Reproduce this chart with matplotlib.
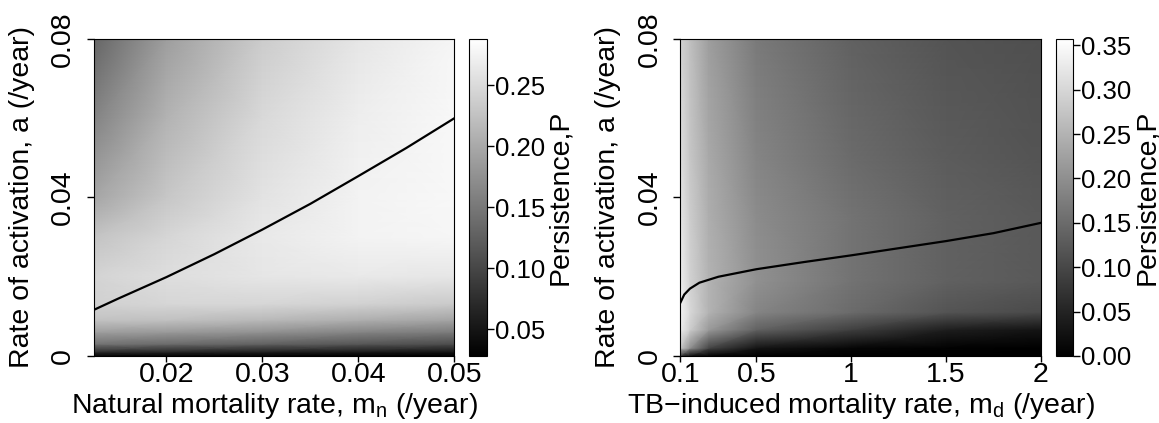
import numpy as np
import matplotlib
matplotlib.use('Agg')
import matplotlib.pyplot as plt

plt.rcParams['font.family'] = ['Liberation Sans', 'DejaVu Sans']
plt.rcParams['font.size'] = 20.5

# left panel: natural mortality rate (cols) vs activation rate (rows), persistence P
mn_grid = [0.0125, 0.02, 0.03, 0.04, 0.05]
a_left = [0.0, 0.001, 0.003, 0.006, 0.009, 0.013, 0.02, 0.03, 0.04, 0.06, 0.08]
P_left = [
    [0.033, 0.032, 0.031, 0.029, 0.028],
    [0.072, 0.067, 0.059, 0.054, 0.049],
    [0.145, 0.137, 0.127, 0.116, 0.106],
    [0.189, 0.184, 0.176, 0.163, 0.153],
    [0.226, 0.223, 0.215, 0.205, 0.194],
    [0.241, 0.246, 0.246, 0.241, 0.233],
    [0.244, 0.254, 0.262, 0.265, 0.262],
    [0.228, 0.246, 0.265, 0.275, 0.278],
    [0.197, 0.231, 0.259, 0.275, 0.280],
    [0.163, 0.210, 0.249, 0.270, 0.280],
    [0.132, 0.189, 0.236, 0.262, 0.278],
]
# optimal activation line, left panel
line_mn = [0.0125, 0.015, 0.02, 0.025, 0.03, 0.035, 0.04, 0.045, 0.05]
line_a_left = [0.0117, 0.0145, 0.0199, 0.0257, 0.0319, 0.0384, 0.0454, 0.0525, 0.0600]

# right panel: TB-induced mortality rate (cols) vs activation rate (rows)
md_grid = [0.1, 0.15, 0.25, 0.5, 1.0, 1.5, 2.0]
a_right = [0.0, 0.002, 0.0066, 0.011, 0.019, 0.035, 0.05, 0.08]
P_right = [
    [0.071, 0.018, 0.004, 0.0, 0.0, 0.0, 0.0],
    [0.278, 0.200, 0.096, 0.029, 0.009, 0.003, 0.0],
    [0.332, 0.286, 0.214, 0.136, 0.089, 0.043, 0.029],
    [0.339, 0.303, 0.250, 0.186, 0.150, 0.118, 0.104],
    [0.332, 0.293, 0.250, 0.203, 0.161, 0.136, 0.125],
    [0.321, 0.286, 0.243, 0.196, 0.161, 0.136, 0.125],
    [0.311, 0.278, 0.236, 0.186, 0.150, 0.129, 0.118],
    [0.293, 0.268, 0.221, 0.171, 0.136, 0.118, 0.111],
]
line_md = [0.1, 0.12, 0.15, 0.2, 0.3, 0.5, 0.75, 1.0, 1.25, 1.5, 1.75, 2.0]
line_a_right = [0.0135, 0.0155, 0.0170, 0.0185, 0.0200, 0.0219, 0.0237, 0.0254,
                0.0272, 0.0290, 0.0310, 0.0336]

fig = plt.figure(figsize=(11.59, 4.23), dpi=100)


def panel(ax_rect, cb_rect, xg, yg, P, lx, ly, vmin, vmax, xticks, xticklabels,
          xlabel, cticks):
    ax = fig.add_axes(ax_rect)
    cax = fig.add_axes(cb_rect)
    X, Y = np.meshgrid(xg, yg)
    mesh = ax.pcolormesh(X, Y, np.array(P), shading='gouraud', cmap='gray',
                         vmin=vmin, vmax=vmax)
    ax.plot(lx, ly, color='black', lw=1.6)
    ax.set_xlim(xg[0], xg[-1])
    ax.set_ylim(0, 0.08)
    ax.set_xticks(xticks)
    ax.set_xticklabels(xticklabels)
    ax.set_yticks([0, 0.04, 0.08])
    ax.set_yticklabels(['0', '0.04', '0.08'], rotation=90, va='center')
    ax.tick_params(axis='x', direction='out', length=4, width=1, pad=0)
    ax.tick_params(axis='y', direction='out', length=5, width=1, pad=8)
    ax.set_xlabel(xlabel)
    ax.xaxis.set_label_coords(0.5, -0.11)
    ax.set_ylabel('Rate of activation, a (/year)')
    ax.yaxis.set_label_coords(-0.165, 0.5)
    for s in ax.spines.values():
        s.set_linewidth(0.8)
    cb = fig.colorbar(mesh, cax=cax)
    cb.set_ticks(cticks)
    cb.ax.yaxis.set_major_formatter(matplotlib.ticker.FormatStrFormatter('%.2f'))
    cb.ax.tick_params(length=5, width=1, pad=1, labelsize=18.5)
    cb.outline.set_linewidth(0.8)
    cb.set_label('Persistence,P', labelpad=1.5)
    return ax


bottom, height = 0.1584, 0.7494
panel([0.0814, bottom, 0.3106, height], [0.4047, bottom, 0.0151, height],
      mn_grid, a_left, P_left, line_mn, line_a_left, 0.028, 0.288,
      [0.02, 0.03, 0.04, 0.05], ['0.02', '0.03', '0.04', '0.05'],
      'Natural mortality rate, m$_\\mathregular{n}$ (/year)',
      [0.05, 0.10, 0.15, 0.20, 0.25])

panel([0.5871, bottom, 0.3110, height], [0.9108, bottom, 0.0150, height],
      md_grid, a_right, P_right, line_md, line_a_right, 0.0, 0.357,
      [0.1, 0.5, 1.0, 1.5, 2.0], ['0.1', '0.5', '1', '1.5', '2'],
      'TB\u2212induced mortality rate, m$_\\mathregular{d}$ (/year)',
      [0.0, 0.05, 0.10, 0.15, 0.20, 0.25, 0.30, 0.35])

plt.savefig('out.png', dpi=100)
